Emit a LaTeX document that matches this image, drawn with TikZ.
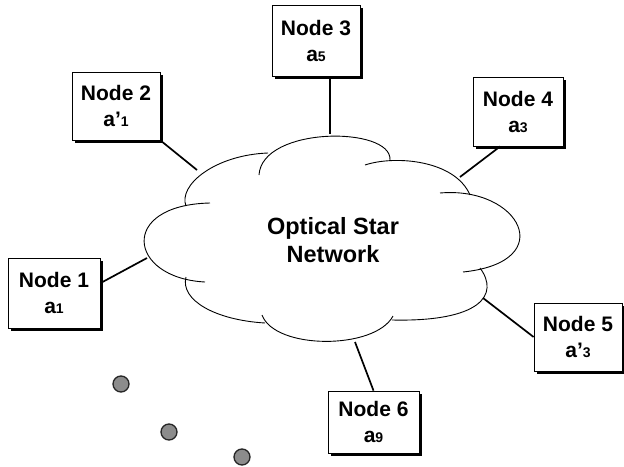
\documentclass[tikz,border=0pt]{standalone}
\usepackage{fontspec}
\setmainfont{Liberation Sans}
\usetikzlibrary{shadows}
\newcommand\nsub[1]{{\fontsize{14}{14}\selectfont #1}}
\begin{document}
\begin{tikzpicture}[x=1pt,y=-1pt,
  nbox/.style={draw, line width=0.8pt, fill=white, align=center, inner sep=0pt,
    minimum width=88pt, minimum height=68pt,
    font=\fontsize{21}{26}\selectfont\bfseries,
    drop shadow={shadow xshift=3pt, shadow yshift=-3pt, fill=black, opacity=1}},
  link/.style={line width=1.7pt},
  lobe/.style={line width=0.9pt},
  dot/.style={circle, draw=black!85, line width=1.3pt, fill=black!45,
    minimum size=16pt, inner sep=0pt}]
\useasboundingbox (0,0) rectangle (624,466);

% cloud
\draw[lobe] (186,206) .. controls (178,185) and (215,155) .. (268,153);
\draw[lobe] (259,175) .. controls (262,126) and (392,126) .. (390,160);
\draw[lobe] (365,165) .. controls (395,155) and (455,160) .. (470,195);
\draw[lobe] (440,193) .. controls (520,186) and (560,262) .. (463,272);
\draw[lobe] (480,268) .. controls (500,295) and (480,322) .. (392,320);
\draw[lobe] (393,316) .. controls (375,350) and (275,350) .. (262,315);
\draw[lobe] (265,323) .. controls (215,320) and (180,300) .. (186,277);
\draw[lobe] (205,282) .. controls (128,278) and (118,205) .. (210,203);
\node[font=\fontsize{23.5}{28}\selectfont\bfseries, align=center] (cl) at (333,240.3) {Optical Star\\Network};

\coordinate (c1) at (147,258);
\coordinate (c2) at (197,170);
\coordinate (c3) at (330,134);
\coordinate (c4) at (460,177);
\coordinate (c5) at (483,298);
\coordinate (c6) at (355,342);

% nodes
\node[nbox, minimum width=92pt, minimum height=70pt] (n1) at (54,293) {Node 1\\a\nsub{1}};
\node[nbox] (n2) at (116,106) {Node 2\\a’\nsub{1}};
\node[nbox, minimum height=71pt] (n3) at (316,40.5) {Node 3\\a\nsub{5}};
\node[nbox, minimum width=90pt, minimum height=69pt] (n4) at (518,111.5) {Node 4\\a\nsub{3}};
\node[nbox] (n5) at (578,337) {Node 5\\a’\nsub{3}};
\node[nbox, minimum width=91pt, minimum height=62pt] (n6) at (373.5,422) {Node 6\\a\nsub{9}};

% connectors
\draw[link] (n1.12) -- (c1);
\draw[link] (n2.south east) -- (c2);
\draw[link] (n3.south -| c3) -- (c3);
\draw[link] (n4.243) -- (c4);
\draw[link] (n5.west) -- (c5);
\draw[link] (n6.north) -- (c6);

% dots
\node[dot] (d1) at (121,384) {};
\node[dot] (d2) at (169,432) {};
\node[dot] (d3) at (242,457) {};
\end{tikzpicture}
\end{document}
